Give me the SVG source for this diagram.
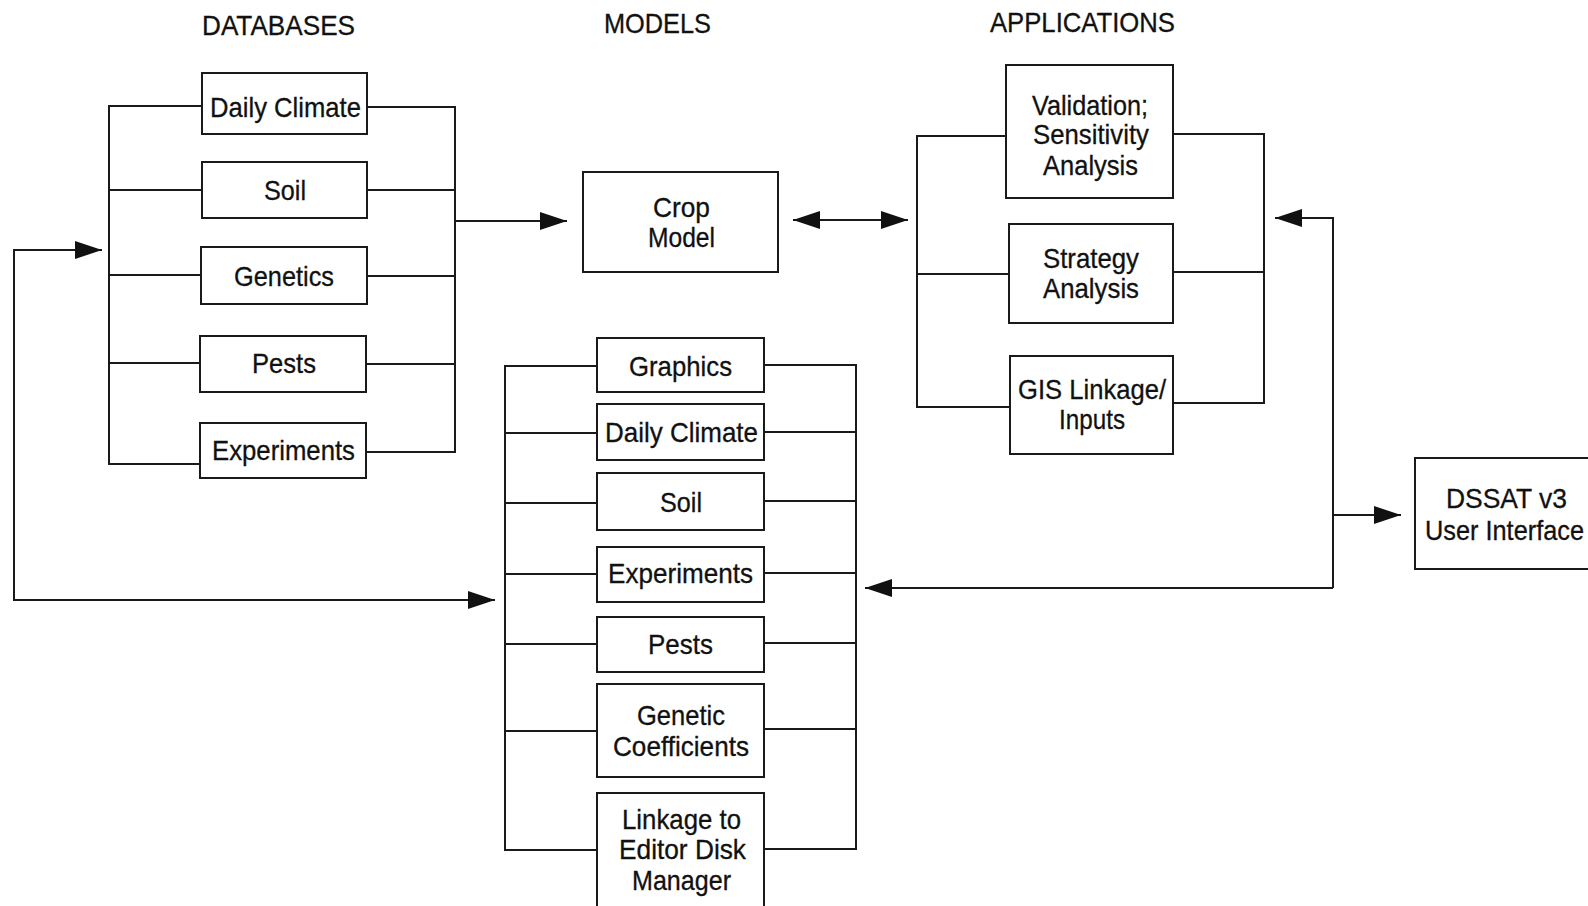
<svg xmlns="http://www.w3.org/2000/svg" width="1588" height="906" viewBox="0 0 1588 906">
<style>
.box{fill:#fff;stroke:#1a1a1a;stroke-width:2}
.ln{fill:none;stroke:#1a1a1a;stroke-width:2}
text{font-family:"Liberation Sans",Arial,sans-serif;font-size:28px;fill:#111;stroke:#111;stroke-width:0.3}
</style>
<defs>
<marker id="arr" viewBox="0 0 27 18" refX="27" refY="9" markerWidth="27" markerHeight="18" markerUnits="userSpaceOnUse" orient="auto-start-reverse">
<path d="M0,0 L27,9 L0,18 Z" fill="#111"/>
</marker>
</defs>
<rect width="1588" height="906" fill="#fff"/>

<g id="headers">
<text x="202" y="35" textLength="153" lengthAdjust="spacingAndGlyphs">DATABASES</text>
<text x="604" y="33" textLength="107" lengthAdjust="spacingAndGlyphs">MODELS</text>
<text x="990" y="32" textLength="185" lengthAdjust="spacingAndGlyphs">APPLICATIONS</text>
</g>

<g id="connectors">
<path class="ln" d="M202,106 H109 V464 H200"/>
<path class="ln" d="M109,190 H202 M109,275 H201 M109,363 H200"/>
<path class="ln" d="M367,107 H455 V452 H366"/>
<path class="ln" d="M367,190 H455 M367,276 H455 M366,364 H455"/>
<path class="ln" d="M455,221 H567" marker-end="url(#arr)"/>
<path class="ln" d="M793,220 H908" marker-start="url(#arr)" marker-end="url(#arr)"/>
<path class="ln" d="M1006,136 H917 V407 H1010 M917,274 H1009"/>
<path class="ln" d="M1173,134 H1264 V403 H1173 M1173,272 H1264"/>
<path class="ln" d="M1333,588 V218 H1275" marker-end="url(#arr)"/>
<path class="ln" d="M1333,588 H865" marker-end="url(#arr)"/>
<path class="ln" d="M1333,515 H1401" marker-end="url(#arr)"/>
<path class="ln" d="M102,250 H14 V600 H495" marker-start="url(#arr)" marker-end="url(#arr)"/>
<path class="ln" d="M597,366 H505 V850 H597 M505,433 H597 M505,503 H597 M505,574 H597 M505,644 H597 M505,731 H597"/>
<path class="ln" d="M764,365 H856 V849 H764 M764,432 H856 M764,501 H856 M764,573 H856 M764,643 H856 M764,729 H856"/>
</g>

<g id="db-daily-climate"><rect class="box" x="202" y="73" width="165" height="61"/><text x="210" y="117" textLength="151" lengthAdjust="spacingAndGlyphs">Daily Climate</text></g>
<g id="db-soil"><rect class="box" x="202" y="162" width="165" height="56"/><text x="264" y="200" textLength="42" lengthAdjust="spacingAndGlyphs">Soil</text></g>
<g id="db-genetics"><rect class="box" x="201" y="247" width="166" height="57"/><text x="234" y="286" textLength="100" lengthAdjust="spacingAndGlyphs">Genetics</text></g>
<g id="db-pests"><rect class="box" x="200" y="336" width="166" height="56"/><text x="252" y="373" textLength="64" lengthAdjust="spacingAndGlyphs">Pests</text></g>
<g id="db-experiments"><rect class="box" x="200" y="423" width="166" height="55"/><text x="212" y="460" textLength="143" lengthAdjust="spacingAndGlyphs">Experiments</text></g>

<g id="crop-model"><rect class="box" x="583" y="172" width="195" height="100"/>
<text x="653" y="217" textLength="57" lengthAdjust="spacingAndGlyphs">Crop</text>
<text x="648" y="247" textLength="67" lengthAdjust="spacingAndGlyphs">Model</text></g>

<g id="app-validation"><rect class="box" x="1006" y="65" width="167" height="133"/>
<text x="1032" y="115" textLength="116" lengthAdjust="spacingAndGlyphs">Validation;</text>
<text x="1033" y="144" textLength="116" lengthAdjust="spacingAndGlyphs">Sensitivity</text>
<text x="1043" y="175" textLength="95" lengthAdjust="spacingAndGlyphs">Analysis</text></g>
<g id="app-strategy"><rect class="box" x="1009" y="224" width="164" height="99"/>
<text x="1043" y="268" textLength="96" lengthAdjust="spacingAndGlyphs">Strategy</text>
<text x="1043" y="298" textLength="96" lengthAdjust="spacingAndGlyphs">Analysis</text></g>
<g id="app-gis"><rect class="box" x="1010" y="356" width="163" height="98"/>
<text x="1018" y="399" textLength="148" lengthAdjust="spacingAndGlyphs">GIS Linkage/</text>
<text x="1059" y="429" textLength="66" lengthAdjust="spacingAndGlyphs">Inputs</text></g>

<g id="m-graphics"><rect class="box" x="597" y="338" width="167" height="54"/><text x="629" y="376" textLength="103" lengthAdjust="spacingAndGlyphs">Graphics</text></g>
<g id="m-daily-climate"><rect class="box" x="597" y="404" width="167" height="56"/><text x="605" y="442" textLength="153" lengthAdjust="spacingAndGlyphs">Daily Climate</text></g>
<g id="m-soil"><rect class="box" x="597" y="473" width="167" height="57"/><text x="660" y="512" textLength="42" lengthAdjust="spacingAndGlyphs">Soil</text></g>
<g id="m-experiments"><rect class="box" x="597" y="547" width="167" height="55"/><text x="608" y="583" textLength="145" lengthAdjust="spacingAndGlyphs">Experiments</text></g>
<g id="m-pests"><rect class="box" x="597" y="617" width="167" height="55"/><text x="648" y="654" textLength="65" lengthAdjust="spacingAndGlyphs">Pests</text></g>
<g id="m-genetic"><rect class="box" x="597" y="684" width="167" height="93"/>
<text x="637" y="725" textLength="88" lengthAdjust="spacingAndGlyphs">Genetic</text>
<text x="613" y="756" textLength="136" lengthAdjust="spacingAndGlyphs">Coefficients</text></g>
<g id="m-linkage"><rect class="box" x="597" y="793" width="167" height="125"/>
<text x="622" y="829" textLength="119" lengthAdjust="spacingAndGlyphs">Linkage to</text>
<text x="619" y="859" textLength="127" lengthAdjust="spacingAndGlyphs">Editor Disk</text>
<text x="632" y="890" textLength="99" lengthAdjust="spacingAndGlyphs">Manager</text></g>

<g id="dssat"><rect class="box" x="1415" y="458" width="190" height="111"/>
<text x="1446" y="508" textLength="121" lengthAdjust="spacingAndGlyphs">DSSAT v3</text>
<text x="1425" y="540" textLength="159" lengthAdjust="spacingAndGlyphs">User Interface</text></g>
</svg>
